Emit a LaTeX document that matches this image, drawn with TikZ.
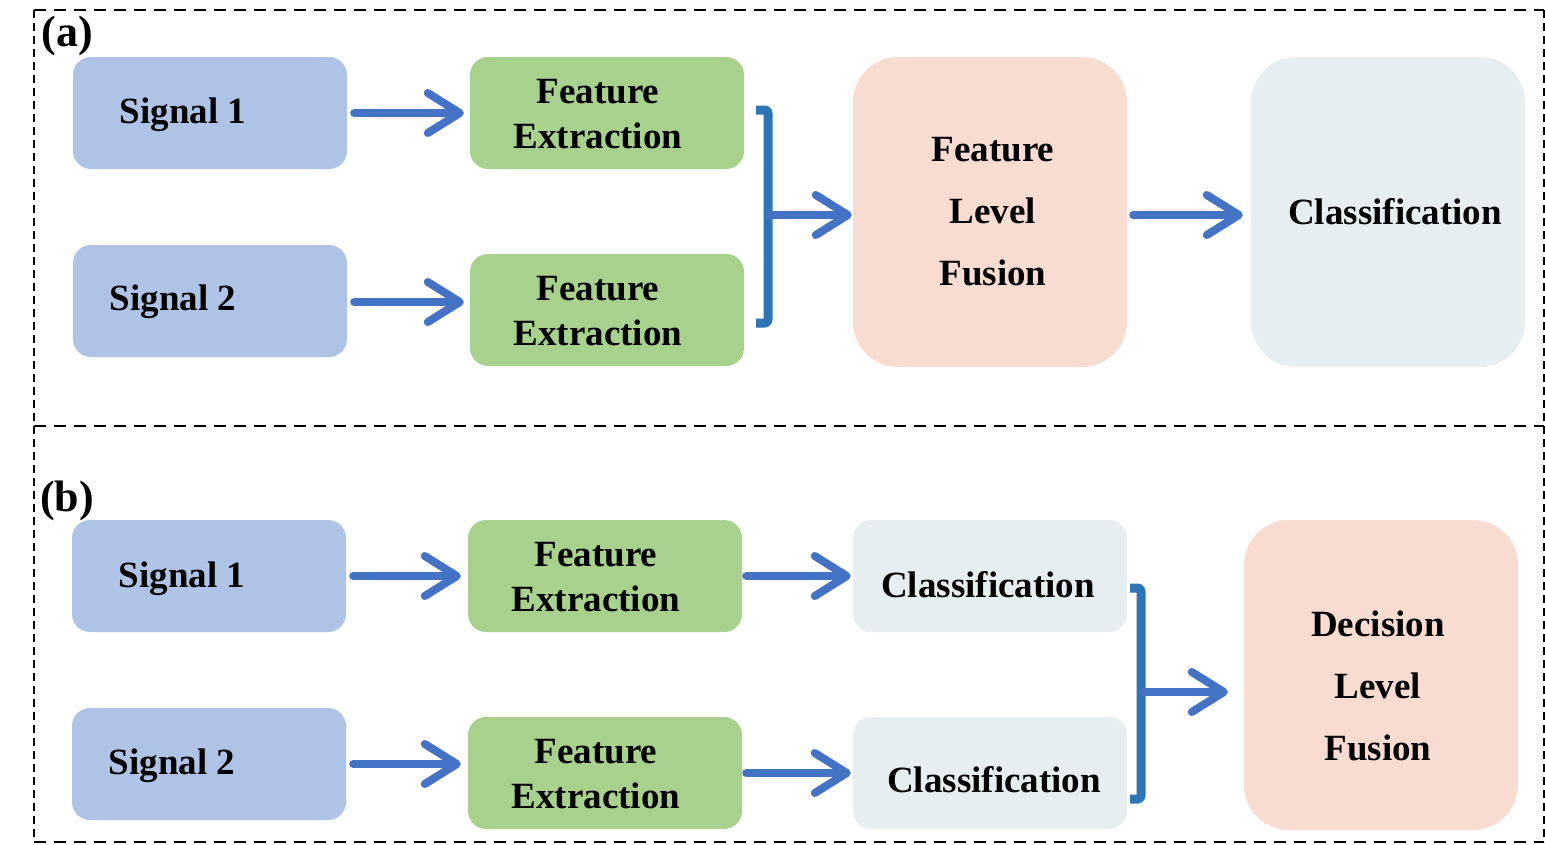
\documentclass[tikz,border=0pt]{standalone}
\usepackage{fontspec}
\setmainfont{Liberation Serif}
\usetikzlibrary{arrows.meta}
\definecolor{sigblue}{HTML}{AEC3E6}
\definecolor{fegreen}{HTML}{A9D18E}
\definecolor{fusepink}{HTML}{F8DCD2}
\definecolor{clsgrey}{HTML}{E6EEF1}
\definecolor{arrblue}{HTML}{4472C4}
\definecolor{brkblue}{HTML}{2E75B6}
\begin{document}
\begin{tikzpicture}[x=1pt,y=-1pt,line join=round,line cap=round,
box/.style={rounded corners=18pt,minimum width=274pt,minimum height=112pt,inner sep=0pt},
big/.style={rounded corners=45pt,minimum width=274pt,minimum height=310pt,inner sep=0pt},
txt/.style={font=\bfseries\fontsize{37}{45}\selectfont,align=center,inner sep=0pt},
bigtxt/.style={font=\bfseries\fontsize{37}{62}\selectfont,align=center,inner sep=0pt},
arr/.style={-{Straight Barb[length=32pt,width=40pt,round]},line width=8pt,arrblue},
brk/.style={line width=9pt,brkblue,line cap=butt,rounded corners=3pt},
frame/.style={line width=2pt,line cap=butt}]
\useasboundingbox (0,0) rectangle (1545,844);
% frame
\draw[frame,dash pattern=on 12pt off 8pt] (34,10)--(1544,10) (34,426)--(1544,426) (34,842)--(1544,842);
\draw[frame,dash pattern=on 8pt off 5pt] (34,10)--(34,842) (1544,10)--(1544,842);
\node[font=\bfseries\fontsize{44}{44}\selectfont,inner sep=0pt] (laba) at (67,36) {(a)};
\node[font=\bfseries\fontsize{44}{44}\selectfont,inner sep=0pt] (labb) at (67,501) {(b)};
% (a) feature level fusion
\node[box,fill=sigblue] (sig1a) at (210,113) {};
\node[txt] (sig1a-t) at (183,115) {Signal 1};
\node[box,fill=sigblue] (sig2a) at (210,301) {};
\node[txt] (sig2a-t) at (173,302) {Signal 2};
\node[box,fill=fegreen] (fe1a) at (607,113) {};
\node[txt] (fe1a-t) at (598,114) {Feature\\Extraction};
\node[box,fill=fegreen] (fe2a) at (607,310) {};
\node[txt] (fe2a-t) at (598,311) {Feature\\Extraction};
\node[big,fill=fusepink] (fusa) at (990,212) {};
\node[bigtxt] (fusa-t) at (993,212) {Feature\\Level\\Fusion};
\node[big,fill=clsgrey] (clsa) at (1388,212) {};
\node[txt] (clsa-t) at (1395,212) {Classification};
\draw[arr,shorten <=7pt,shorten >=6pt] (sig1a) -- (fe1a);
\draw[arr,shorten <=7pt,shorten >=6pt] (sig2a.east|-sig2a-t) -- (fe2a.west|-sig2a-t);
\coordinate (bra) at (768,215);
\draw[brk] (756,110)--(768,110)--(768,323)--(756,323);
\draw[arr,shorten <=2pt,shorten >=1pt] (bra) -- (bra-|fusa.west);
\draw[arr,shorten <=6pt,shorten >=8pt] (fusa.east|-bra) -- (clsa.west|-bra);
% (b) decision level fusion
\node[box,fill=sigblue] (sig1b) at (209,576) {};
\node[txt] (sig1b-t) at (182,579) {Signal 1};
\node[box,fill=sigblue] (sig2b) at (209,764) {};
\node[txt] (sig2b-t) at (172,766) {Signal 2};
\node[box,fill=fegreen] (fe1b) at (605,576) {};
\node[txt] (fe1b-t) at (596,577) {Feature\\Extraction};
\node[box,fill=fegreen] (fe2b) at (605,773) {};
\node[txt] (fe2b-t) at (596,774) {Feature\\Extraction};
\node[box,fill=clsgrey] (cls1b) at (990,576) {};
\node[txt] (cls1b-t) at (988,585) {Classification};
\node[box,fill=clsgrey] (cls2b) at (990,773) {};
\node[txt] (cls2b-t) at (994,780) {Classification};
\node[big,fill=fusepink] (fusb) at (1381,675) {};
\node[bigtxt] (fusb-t) at (1378,686) {Decision\\Level\\Fusion};
\draw[arr,shorten <=7pt,shorten >=7pt] (sig1b) -- (fe1b);
\draw[arr,shorten <=7pt,shorten >=7pt] (sig2b) -- (fe2b.west|-sig2b);
\draw[arr,shorten <=4pt,shorten >=2pt] (fe1b) -- (cls1b);
\draw[arr,shorten <=4pt,shorten >=2pt] (fe2b) -- (cls2b);
\coordinate (brb) at (1141,692);
\draw[brk] (1130,588)--(1141,588)--(1141,799)--(1130,799);
\draw[arr,shorten <=2pt,shorten >=16pt] (brb) -- (brb-|fusb.west);
\end{tikzpicture}
\end{document}
